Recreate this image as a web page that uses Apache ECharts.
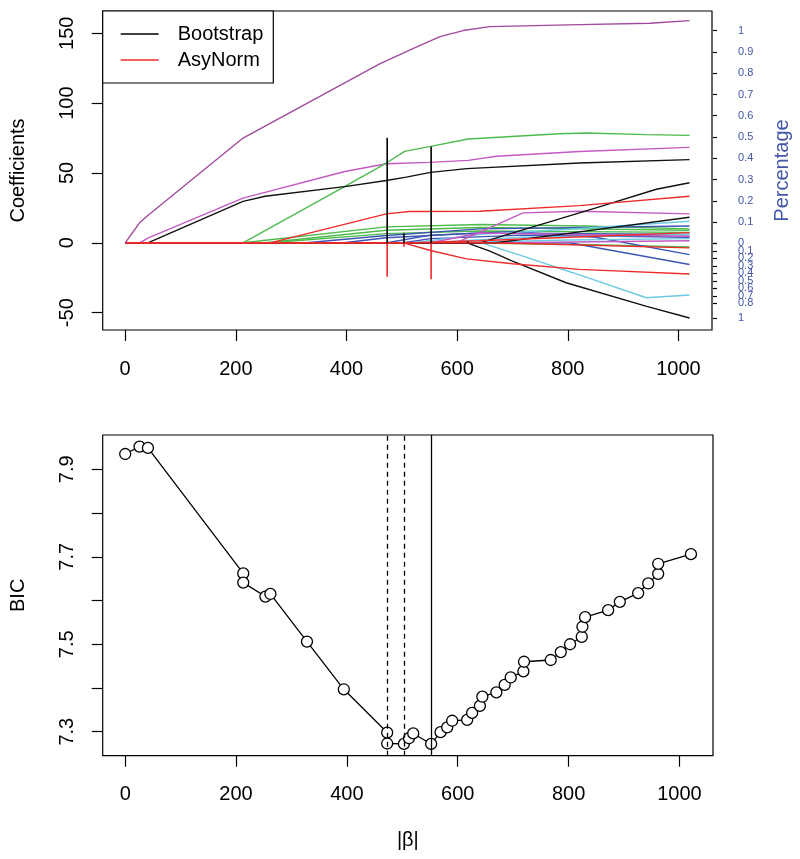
<!DOCTYPE html>
<html><head><meta charset="utf-8">
<script src="https://cdn.jsdelivr.net/npm/echarts@6/dist/echarts.min.js"></script>
<style>html,body{margin:0;padding:0;background:#fff}#c{width:800px;height:859px}</style>
</head><body><div id="c"></div>
<script>
// ---------- data ----------
const xTicks = [0, 200, 400, 600, 800, 1000];
const coefTicks = [-50, 0, 50, 100, 150];
const bicTicks = [7.3, 7.4, 7.5, 7.6, 7.7, 7.8, 7.9];
const bicLabels = [7.3, 7.5, 7.7, 7.9];

// coefficient paths: [|beta|, coefficient]
const pathT1 = [[0,0],[26,14.3],[41,19.5],[213,75],[460,128],[520,139],[569,147.6],[611,151.9],[659,154.7],[800,156],[948,157.1],[1020,159]];
const pathM1 = [[0,0],[26,0],[42,3.6],[213,32],[397,51],[472,56.6],[550,57.6],[620,59],[671,61.9],[821,65.4],[1020,68.3]];
const pathB1 = [[0,0],[41,0],[213,29.7],[253,33.3],[400,40.4],[472,44.6],[508,47],[552,50.4],[617,53.1],[821,57.1],[1020,59.5]];
const pathG1 = [[0,0],[213,0],[394,39.7],[472,57.1],[505,65.4],[552,69],[620,74.3],[785,78.1],[833,78.6],[942,77.4],[1020,76.9]];
const pathR1 = [[0,0],[262,0],[472,20.7],[514,22.4],[641,22.6],[821,26.6],[1020,33.3]];
const pathB2 = [[0,0],[641,0],[851,25],[960,38.3],[1020,43]];
const pathB3 = [[0,0],[670,0],[794,6.4],[1020,18.3]];
const pathB4 = [[0,0],[618,0],[659,-6],[700,-13.1],[797,-28.6],[941,-45.3],[1020,-53.8]];
const pathC1 = [[0,0],[644,0],[719,-9.5],[809,-21.4],[942,-39.3],[1020,-37.4]];
const pathR2 = [[0,0],[503,0],[552,-5.5],[617,-11.5],[700,-15],[821,-19],[1020,-22.3]];
const pathM2 = [[0,0],[598,0],[719,21.4],[821,22.6],[1020,20.7]];
const pathG2 = [[0,0],[213,0],[472,11.4],[641,13.1],[830,12],[1020,10]];
const pathG3 = [[0,0],[253,0],[472,9],[641,11],[1020,9]];
const pathG4 = [[0,0],[262,0],[472,6.6],[641,8.5],[1020,7.5]];
const pathG5 = [[0,0],[590,0],[803,-1],[1020,-3]];
const pathBl1 = [[0,0],[803,0],[1020,-15.5]];
const pathBl2 = [[0,0],[473,0],[552,5.5],[700,8],[850,4],[1020,-8.5]];
const pathBl3 = [[0,0],[328,0],[472,5.2],[641,10],[1020,12]];
const pathBl4 = [[0,0],[395,0],[472,3.6],[641,7],[1020,6]];
const pathBl5 = [[0,0],[503,0],[552,3],[719,5.5],[1020,4]];
const pathC2 = [[0,0],[520,0],[641,6],[794,9.5],[1020,15.4]];
const pathC3 = [[0,0],[552,0],[719,4],[1020,6]];
const pathC4 = [[0,0],[590,0],[803,2],[1020,3]];
const pathR3 = [[0,0],[641,0],[719,-0.5],[1020,-3.6]];
const pathR4 = [[0,0],[520,0],[640,1.5],[803,4],[1020,7.3]];
const pathM3 = [[0,0],[552,0],[641,7],[1020,4.7]];
const pathM4 = [[0,0],[690,0],[1020,1.5]];

// selection percentages (vertical bars)
const selX = [472.7, 503, 552, 618];
const bootPct = [0.497, 0.047, 0.454, 0.008];
const asyPct = [0.445, 0.045, 0.48, 0.01];

// BIC curve
const bicX = [0, 25.9, 41, 213, 213, 253, 262, 328, 394.5, 472.7, 472.7, 502.9, 512, 519.7, 552, 569, 581, 590, 617, 626, 640, 644.4, 669.7, 684.7, 695.6, 718.5, 719.6, 767.8, 786, 802.7, 823.8, 825, 829.8, 871.4, 892.5, 925.6, 943.7, 961.7, 961.7, 1020.8];
const bicY = [7.935, 7.952, 7.949, 7.662, 7.641, 7.609, 7.615, 7.506, 7.397, 7.298, 7.273, 7.272, 7.285, 7.296, 7.272, 7.299, 7.31, 7.325, 7.327, 7.343, 7.359, 7.38, 7.39, 7.407, 7.424, 7.438, 7.46, 7.464, 7.482, 7.5, 7.517, 7.54, 7.562, 7.578, 7.597, 7.617, 7.639, 7.661, 7.684, 7.706];
const cutDashed = [472.7, 502.9];
const cutSolid = [552];

// ---------- style ----------
const FONT = '"Liberation Sans", Arial, Helvetica, sans-serif';
const BLACK = '#111111', RED = '#ee2b2b', GREEN = '#4cbb4c', BLUE = '#3d56b4',
      CYAN = '#6ccbe3', MAGENTA = '#c35ac3', PURPLE = '#a24a9e', PCTBLUE = '#4356a8';

const coefLines = [
  [pathG2, GREEN], [pathG3, GREEN], [pathG4, GREEN], [pathG5, GREEN],
  [pathBl3, BLUE], [pathBl4, BLUE], [pathBl5, BLUE], [pathBl2, BLUE], [pathBl1, BLUE],
  [pathC2, CYAN], [pathC3, CYAN], [pathC4, CYAN], [pathC1, CYAN],
  [pathM3, MAGENTA], [pathM4, MAGENTA], [pathM2, MAGENTA], [pathM1, MAGENTA],
  [pathG1, GREEN], [pathB3, BLACK], [pathB2, BLACK], [pathB4, BLACK], [pathB1, BLACK],
  [pathR4, RED], [pathR2, RED], [pathR1, RED], [pathR3, RED],
  [pathT1, PURPLE]
];

const X_MIN = -40.6, X_MAX = 1060.6;
const GL = 102.7, GW = 610.3;

const tickStyle = { show: true, inside: false, length: 11, lineStyle: { color: '#000', width: 1.2 } };
const lblStyle = { color: '#000', fontSize: 20, fontFamily: FONT };
const noLine = { show: false, onZero: false };

function xAx(idx, showAll) {
  return {
    type: 'value', gridIndex: idx, min: X_MIN, max: X_MAX,
    show: showAll,
    axisLine: noLine, splitLine: { show: false },
    axisTick: Object.assign({}, tickStyle, { customValues: xTicks }),
    axisLabel: Object.assign({}, lblStyle, { customValues: xTicks, margin: 29, formatter: v => String(v) })
  };
}

const series = [];
coefLines.forEach(([d, c]) => series.push({
  type: 'line', xAxisIndex: 0, yAxisIndex: 0, data: d, symbol: 'none', silent: true,
  lineStyle: { color: c, width: 1.4 }, z: 2
}));
selX.forEach((x, i) => series.push({
  name: 'Bootstrap', type: 'line', xAxisIndex: 1, yAxisIndex: 2,
  data: [[x, 0], [x, bootPct[i]]], symbol: 'none',
  lineStyle: { color: '#000', width: 1.6 }, itemStyle: { color: '#000' }, z: 5
}));
selX.forEach((x, i) => series.push({
  name: 'AsyNorm', type: 'line', xAxisIndex: 2, yAxisIndex: 3,
  data: [[x, 0], [x, asyPct[i]]], symbol: 'none',
  lineStyle: { color: RED, width: 1.6 }, itemStyle: { color: RED }, z: 5
}));
series.push({
  type: 'line', xAxisIndex: 3, yAxisIndex: 4,
  data: bicX.map((x, i) => [x, bicY[i]]),
  symbol: 'circle', symbolSize: 11, showSymbol: true,
  lineStyle: { color: '#000', width: 1.3 },
  itemStyle: { color: '#fff', borderColor: '#000', borderWidth: 1.3 },
  z: 3,
  markLine: {
    symbol: 'none', silent: true, label: { show: false },
    lineStyle: { color: '#000', width: 1.3 },
    data: cutDashed.map(v => ({ xAxis: v, lineStyle: { type: [5, 4], color: '#000', width: 1.3 } }))
      .concat(cutSolid.map(v => ({ xAxis: v, lineStyle: { type: 'solid', color: '#000', width: 1.3 } })))
  }
});

const pctFmt = v => String(Math.round(v * 10) / 10);

const option = {
  animation: false,
  backgroundColor: '#fff',
  textStyle: { fontFamily: FONT },
  grid: [
    { left: GL, top: 11, width: GW, height: 319, show: true, borderColor: '#000', borderWidth: 1.2, backgroundColor: 'transparent' },
    { left: GL, top: 30.7, width: GW, height: 212.6, show: false },
    { left: GL, top: 243.3, width: GW, height: 75, show: false },
    { left: GL, top: 435, width: GW, height: 320.7, show: true, borderColor: '#000', borderWidth: 1.2, backgroundColor: 'transparent' }
  ],
  legend: {
    data: ['Bootstrap', 'AsyNorm'], orient: 'vertical', left: GL, top: 11,
    icon: 'rect', itemWidth: 38, itemHeight: 1.6, itemGap: 6, padding: [13, 10, 13, 18],
    borderColor: '#000', borderWidth: 1.2, backgroundColor: '#fff',
    textStyle: { fontSize: 20, color: '#000', fontFamily: FONT, padding: [0, 0, 0, 14], lineHeight: 20 },
    selectedMode: false
  },
  xAxis: [xAx(0, true), xAx(1, false), xAx(2, false),
    Object.assign(xAx(3, true), { name: '|β|', nameLocation: 'middle', nameGap: 75, nameTextStyle: lblStyle })],
  yAxis: [
    { type: 'value', gridIndex: 0, min: -62.4, max: 165.9,
      name: 'Coefficients', nameLocation: 'middle', nameGap: 74, nameTextStyle: lblStyle,
      axisLine: noLine, splitLine: { show: false },
      axisTick: Object.assign({}, tickStyle, { customValues: coefTicks }),
      axisLabel: Object.assign({}, lblStyle, { customValues: coefTicks, rotate: 90, margin: 25 }) },
    { type: 'value', gridIndex: 0, position: 'right', min: -62.4, max: 165.9,
      name: 'Percentage', nameLocation: 'middle', nameGap: 60, nameRotate: 90,
      nameTextStyle: { color: PCTBLUE, fontSize: 20, fontFamily: FONT },
      axisLine: noLine, axisTick: { show: false }, axisLabel: { show: false }, splitLine: { show: false } },
    { type: 'value', gridIndex: 1, position: 'right', min: 0, max: 1, interval: 0.1,
      axisLine: noLine, splitLine: { show: false },
      axisTick: { show: true, length: 4, lineStyle: { color: '#000', width: 1.2 } },
      axisLabel: { color: PCTBLUE, fontSize: 11, fontFamily: FONT, margin: 25, formatter: pctFmt,
        showMinLabel: true, showMaxLabel: true } },
    { type: 'value', gridIndex: 2, position: 'right', min: 0, max: 1, interval: 0.1, inverse: true,
      axisLine: noLine, splitLine: { show: false },
      axisTick: { show: true, length: 4, lineStyle: { color: '#000', width: 1.2 } },
      axisLabel: { color: PCTBLUE, fontSize: 11, fontFamily: FONT, margin: 25,
        showMinLabel: true, showMaxLabel: true, hideOverlap: false,
        formatter: v => (Math.abs(v) < 1e-9 ? '' : pctFmt(v)) } },
    { type: 'value', gridIndex: 3, min: 7.2451, max: 7.9785,
      name: 'BIC', nameLocation: 'middle', nameGap: 74, nameTextStyle: lblStyle,
      axisLine: noLine, splitLine: { show: false },
      axisTick: Object.assign({}, tickStyle, { customValues: bicTicks }),
      axisLabel: Object.assign({}, lblStyle, { customValues: bicLabels, rotate: 90, margin: 25, formatter: v => v.toFixed(1) }) }
  ],
  series: series
};

const chart = echarts.init(document.getElementById('c'), null, { renderer: 'canvas' });
chart.setOption(option);
</script></body></html>
